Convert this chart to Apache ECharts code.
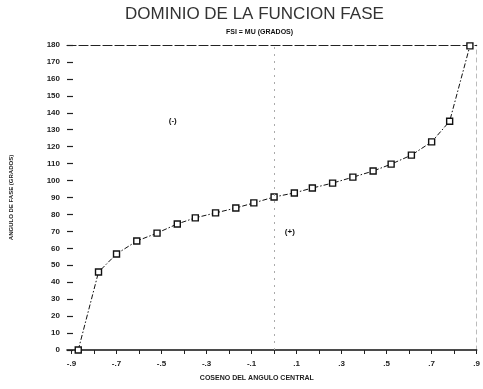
<!DOCTYPE html>
<html>
<head>
<meta charset="utf-8">
<script src="https://cdn.jsdelivr.net/npm/echarts@6/dist/echarts.min.js"></script>
<style>
  html, body { margin: 0; padding: 0; background: #fff; }
  #chart { width: 483px; height: 389px; }
</style>
</head>
<body>
<div id="chart"></div>
<script>
// Cosine of the central angle for each computed point
const cosValues = [-0.87, -0.78, -0.70, -0.61, -0.52, -0.43, -0.35, -0.26, -0.17, -0.09,
                   0, 0.09, 0.17, 0.26, 0.35, 0.44, 0.52, 0.61, 0.70, 0.78, 0.87];
// Phase angle (degrees) at each point
const phaseAngles = [0, 46, 56.7, 64.3, 69, 74.4, 78, 80.9, 83.8, 86.8,
                     90.3, 92.7, 95.6, 98.5, 102, 105.6, 109.7, 115, 122.8, 135, 179.5];
// Axis ticks and labels
const xTickValues = [-0.9, -0.8, -0.7, -0.6, -0.5, -0.4, -0.3, -0.2, -0.1, 0,
                     0.1, 0.2, 0.3, 0.4, 0.5, 0.6, 0.7, 0.8, 0.9];
const xLabelValues = [-0.9, -0.7, -0.5, -0.3, -0.1, 0.1, 0.3, 0.5, 0.7, 0.9];
const titleText = 'DOMINIO DE LA FUNCION FASE';
const subtitleText = 'FSI = MU (GRADOS)';
const xName = 'COSENO DEL ANGULO CENTRAL';
const yName = 'ANGULO DE FASE (GRADOS)';
const regionLabels = [
  { name: '(-)', coord: [-0.45, 135] },
  { name: '(+)', coord: [0.07, 70] }
];

const points = cosValues.map((c, i) => [c, phaseAngles[i]]);
const fmtCos = v => (v < 0 ? '-' : '') + Math.abs(v).toFixed(1).replace(/^0/, '');

const chart = echarts.init(document.getElementById('chart'));
chart.setOption({
  animation: false,
  backgroundColor: '#fff',
  textStyle: { fontFamily: 'Liberation Sans' },
  grid: { left: 64, right: 6, top: 45, bottom: 39 },
  graphic: [
    { type: 'text', left: 125, top: 6,
      style: { text: titleText, font: '17px "Liberation Sans"', fill: '#333' } },
    { type: 'text', left: 226, top: 29,
      style: { text: subtitleText, font: 'bold 7px "Liberation Sans"', fill: '#111' } }
  ],
  xAxis: [{
    type: 'value', min: -0.92, max: 0.9,
    name: xName, nameLocation: 'middle', nameGap: 25,
    nameTextStyle: { fontSize: 7, fontWeight: 'bold', color: '#222', padding: [0, 30, 0, 0] },
    axisLine: { onZero: false, lineStyle: { color: '#111', width: 1.6 } },
    axisTick: { show: true, length: 4, customValues: xTickValues, lineStyle: { color: '#222' } },
    axisLabel: { customValues: xLabelValues, formatter: fmtCos, margin: 10,
      fontSize: 8, fontWeight: 'bold', color: '#222' },
    splitLine: { show: false }
  }, {
    type: 'value', min: -0.92, max: 0.9, position: 'top',
    axisLine: { show: true, onZero: false, lineStyle: { color: '#222', width: 1.2, type: [9, 3] } },
    axisTick: { show: false }, axisLabel: { show: false }, splitLine: { show: false }
  }],
  yAxis: [{
    type: 'value', min: 0, max: 180, interval: 10,
    name: yName, nameLocation: 'middle', nameGap: 53, nameRotate: 90,
    nameTextStyle: { fontSize: 6, fontWeight: 'bold', color: '#222' },
    axisLine: { show: false, onZero: false },
    axisTick: { show: true, inside: true, length: 6, lineStyle: { color: '#222', width: 1.2 } },
    axisLabel: { margin: 7, fontSize: 8, fontWeight: 'bold', color: '#222' },
    splitLine: { show: false }
  }, {
    type: 'value', min: 0, max: 180, position: 'right',
    axisLine: { show: true, onZero: false, lineStyle: { color: '#bbb', width: 1, type: [4, 4] } },
    axisTick: { show: false }, axisLabel: { show: false }, splitLine: { show: false }
  }],
  series: [{
    type: 'line',
    data: points,
    symbol: 'rect',
    symbolSize: 6,
    itemStyle: { color: '#fff', borderColor: '#111', borderWidth: 1.4 },
    lineStyle: { color: '#111', width: 1, type: [5, 2, 1.5, 2] },
    markLine: {
      silent: true, symbol: 'none', label: { show: false },
      lineStyle: { color: '#aaa', width: 1, type: [2, 5] },
      data: [{ xAxis: 0 }]
    },
    markPoint: {
      symbol: 'circle', symbolSize: 1, itemStyle: { color: 'rgba(0,0,0,0)' },
      label: { show: true, position: 'inside', formatter: p => p.name,
        fontSize: 8, fontWeight: 'bold', color: '#111' },
      data: regionLabels.map(r => ({ name: r.name, coord: r.coord }))
    },
    z: 3
  }]
});
</script>
</body>
</html>
